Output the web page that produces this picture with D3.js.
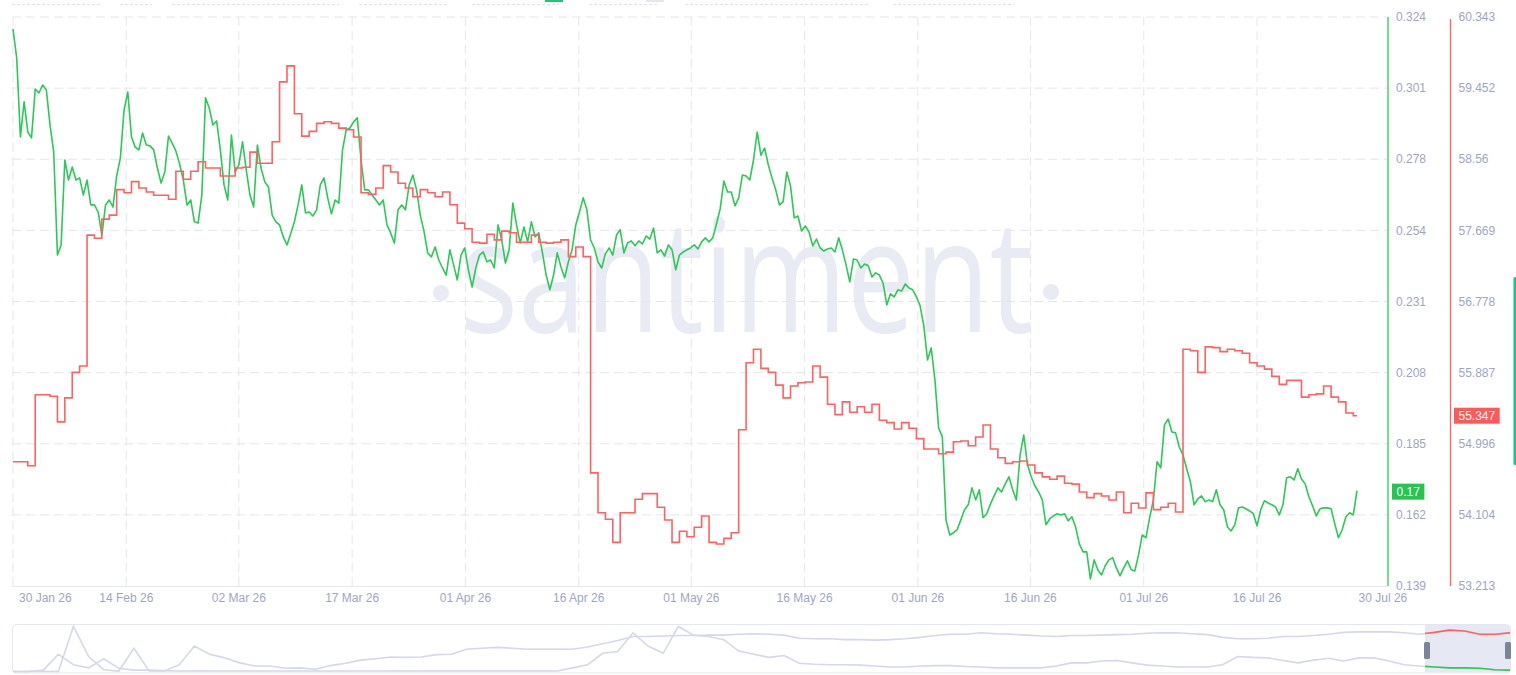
<!DOCTYPE html>
<html>
<head>
<meta charset="utf-8">
<script src="https://cdn.jsdelivr.net/npm/d3@7"></script>
<style>
  html, body { margin: 0; padding: 0; background: #fff; }
  svg { display: block; font-family: "Liberation Sans", Arial, sans-serif; }
</style>
</head>
<body>
<svg id="chart" width="1516" height="675"></svg>
<script>
// price (green), two readings per day from 30 Jan 26
var priceValues = [
  .3201,.3107,.2850,.2964,.2866,.2847,.3006,.2993,.3019,.3003,
  .2889,.2801,.2466,.2499,.2775,.2710,.2752,.2710,.2717,.2661,
  .2710,.2629,.2629,.2606,.2531,.2629,.2645,.2622,.2723,.2782,
  .2938,.2996,.2850,.2817,.2808,.2863,.2824,.2821,.2808,.2749,
  .2700,.2736,.2853,.2830,.2804,.2762,.2710,.2629,.2645,.2574,
  .2570,.2661,.2977,.2944,.2889,.2902,.2808,.2694,.2645,.2856,
  .2736,.2759,.2834,.2743,.2661,.2622,.2824,.2749,.2704,.2687,
  .2596,.2574,.2564,.2525,.2499,.2535,.2574,.2629,.2694,.2603,
  .2606,.2593,.2613,.2694,.2717,.2652,.2600,.2645,.2635,.2808,
  .2873,.2879,.2899,.2912,.2775,.2678,.2678,.2661,.2645,.2629,
  .2645,.2564,.2538,.2505,.2613,.2629,.2613,.2694,.2726,.2678,
  .2596,.2544,.2473,.2460,.2492,.2450,.2424,.2401,.2483,.2434,
  .2385,.2466,.2489,.2418,.2362,.2424,.2466,.2476,.2444,.2450,
  .2424,.2564,.2515,.2440,.2483,.2635,.2564,.2505,.2557,.2509,
  .2574,.2525,.2538,.2473,.2401,.2353,.2401,.2473,.2427,.2392,
  .2444,.2483,.2564,.2606,.2652,.2613,.2515,.2489,.2444,.2424,
  .2470,.2489,.2466,.2531,.2548,.2473,.2505,.2512,.2496,.2512,
  .2502,.2528,.2518,.2554,.2473,.2483,.2463,.2499,.2483,.2418,
  .2466,.2476,.2483,.2489,.2499,.2486,.2509,.2522,.2509,.2522,
  .2567,.2616,.2707,.2671,.2671,.2626,.2652,.2726,.2723,.2710,
  .2775,.2866,.2791,.2814,.2759,.2717,.2678,.2629,.2639,.2736,
  .2691,.2587,.2593,.2544,.2561,.2541,.2496,.2518,.2489,.2479,
  .2486,.2489,.2476,.2522,.2483,.2434,.2379,.2453,.2450,.2424,
  .2437,.2431,.2395,.2408,.2401,.2375,.2304,.2340,.2330,.2353,
  .2349,.2372,.2359,.2353,.2330,.2301,.2236,.2125,.2164,.2060,
  .1904,.1875,.1605,.1556,.1563,.1573,.1605,.1638,.1654,.1709,
  .1670,.1703,.1612,.1625,.1657,.1683,.1709,.1696,.1722,.1745,
  .1703,.1670,.1816,.1881,.1784,.1745,.1716,.1696,.1670,.1589,
  .1608,.1618,.1625,.1621,.1625,.1602,.1615,.1582,.1527,.1501,
  .1501,.1413,.1475,.1443,.1426,.1456,.1475,.1482,.1449,.1423,
  .1449,.1472,.1443,.1439,.1491,.1556,.1547,.1612,.1670,.1794,
  .1774,.1914,.1933,.1891,.1888,.1842,.1816,.1771,.1729,.1654,
  .1673,.1683,.1664,.1670,.1664,.1703,.1654,.1638,.1582,.1569,
  .1589,.1644,.1647,.1641,.1634,.1625,.1586,.1638,.1667,.1660,
  .1654,.1647,.1621,.1654,.1742,.1745,.1735,.1771,.1738,.1722,
  .1680,.1651,.1618,.1641,.1644,.1644,.1641,.1592,.1547,.1573,
  .1615,.1628,.1621,.1700
];

// second metric (red), one value per day
var metricValues = [
  54.77,54.77,54.72,55.61,55.61,55.59,55.27,55.57,55.89,55.97,
  57.61,57.57,57.81,57.86,58.18,58.14,58.28,58.20,58.15,58.11,
  58.11,58.06,58.41,58.31,58.41,58.53,58.45,58.45,58.35,58.35,
  58.45,58.46,58.65,58.51,58.51,58.78,59.53,59.73,59.13,58.85,
  58.91,59.01,59.03,59.01,58.95,58.93,58.84,58.14,58.12,58.20,
  58.48,58.40,58.26,58.20,58.09,58.18,58.14,58.09,58.15,57.99,
  57.76,57.69,57.52,57.51,57.62,57.55,57.66,57.64,57.52,57.52,
  57.61,57.52,57.51,57.52,57.55,57.34,57.46,57.34,54.63,54.13,
  54.05,53.76,54.13,54.13,54.30,54.37,54.37,54.20,54.04,53.76,
  53.90,53.83,53.95,54.09,53.76,53.74,53.81,53.88,55.17,56.01,
  56.18,55.94,55.89,55.73,55.57,55.72,55.76,55.77,55.97,55.83,
  55.49,55.36,55.52,55.39,55.46,55.39,55.49,55.29,55.26,55.18,
  55.26,55.19,55.06,54.93,54.93,54.87,54.89,55.02,55.03,54.97,
  55.08,55.23,54.93,54.82,54.75,54.77,54.78,54.73,54.63,54.58,
  54.55,54.59,54.50,54.49,54.39,54.32,54.37,54.34,54.29,54.39,
  54.13,54.25,54.19,54.38,54.17,54.20,54.25,54.14,56.18,56.16,
  55.89,56.21,56.20,56.15,56.18,56.16,56.13,56.01,55.97,55.93,
  55.84,55.74,55.79,55.79,55.58,55.61,55.62,55.72,55.58,55.52,
  55.38,55.347
];

var priceDomain = [0.139, 0.324];
var metricDomain = [53.213, 60.343];
var priceTickLabels = ['0.139','0.162','0.185','0.208','0.231','0.254','0.278','0.301','0.324'];
var metricTickLabels = ['53.213','54.104','54.996','55.887','56.778','57.669','58.56','59.452','60.343'];

var dateLabels = ['30 Jan 26','14 Feb 26','02 Mar 26','17 Mar 26','01 Apr 26','16 Apr 26','01 May 26',
  '16 May 26','01 Jun 26','16 Jun 26','01 Jul 26','16 Jul 26','30 Jul 26'];
var dateTickDays = [0, 15.3, 30.5, 45.8, 61.1, 76.4, 91.6, 106.9, 122.2, 137.4, 152.7, 168.0, 185.0];

// full history for the navigator, scaled 0..1
var navMetric = [
  0,0,0,0,0.99,0.33,0.04,0.01,0.51,0.01,
  0.01,0.15,0.56,0.38,0.30,0.19,0.12,0.12,0.07,0.08,
  0.05,0.13,0.18,0.25,0.28,0.32,0.31,0.32,0.37,0.38,
  0.49,0.51,0.53,0.51,0.49,0.49,0.49,0.49,0.54,0.61,
  0.68,0.77,0.77,0.78,0.79,0.79,0.80,0.80,0.82,0.83,
  0.82,0.80,0.73,0.72,0.72,0.70,0.70,0.69,0.70,0.72,
  0.75,0.79,0.82,0.82,0.85,0.83,0.82,0.80,0.78,0.77,
  0.79,0.79,0.80,0.81,0.82,0.84,0.85,0.85,0.83,0.81,
  0.75,0.72,0.72,0.73,0.77,0.77,0.79,0.82,0.86,0.87,
  0.87,0.87,0.85,0.82,0.86,0.91,0.89,0.82,0.82,0.85
];
var navPrice = [
  0,0,0.03,0.38,0.15,0.08,0.28,0.07,0.03,0.03,
  0.02,0.01,0.01,0.01,0.01,0.01,0.01,0.01,0.01,0.01,
  0.01,0.01,0.01,0.01,0.01,0.01,0.01,0.01,0.01,0.01,
  0.01,0.01,0.01,0.01,0.01,0.01,0.01,0.08,0.15,0.40,
  0.44,0.85,0.56,0.40,0.99,0.80,0.77,0.70,0.45,0.38,
  0.31,0.35,0.18,0.16,0.15,0.15,0.14,0.12,0.10,0.10,
  0.12,0.13,0.13,0.11,0.10,0.08,0.08,0.08,0.08,0.12,
  0.19,0.19,0.23,0.24,0.19,0.14,0.12,0.10,0.10,0.10,
  0.15,0.33,0.31,0.30,0.24,0.19,0.25,0.29,0.23,0.30,
  0.30,0.23,0.15,0.12,0.10,0.08,0.08,0.07,0.04,0.03
];

var GREEN = '#2bc957', RED = '#ff6262', LABEL = '#9ea6bf', GRID = '#e3e6ef';
var plot = { left: 12, right: 1388, top: 17, bottom: 586 };
var svg = d3.select('#chart');

// leftovers of the toolbar above the chart
var stubs = [[12,100],[120,152],[172,339],[359,447],[472,559],[589,658],[685,868],[893,1014]];
stubs.forEach(function(s) {
  svg.append('line').attr('x1', s[0]).attr('x2', s[1]).attr('y1', 4.5).attr('y2', 4.5)
    .attr('stroke', '#dfe2ec').attr('stroke-dasharray', '3,2');
});
svg.append('rect').attr('x', 545).attr('y', 0).attr('width', 18).attr('height', 2).attr('fill', '#1cc47e');
svg.append('rect').attr('x', 646).attr('y', 0).attr('width', 18).attr('height', 2).attr('fill', '#e4e7f0');

// watermark
svg.append('text').attr('x', 460).attr('y', 332)
  .attr('textLength', 573).attr('lengthAdjust', 'spacingAndGlyphs')
  .style('font-family', '"Open Sans", "Noto Sans", sans-serif').style('font-size', '158px')
  .attr('fill', '#e8eaf4').text('santiment');
svg.append('circle').attr('cx', 441).attr('cy', 293).attr('r', 8).attr('fill', '#e8eaf4');
svg.append('circle').attr('cx', 1051).attr('cy', 292).attr('r', 8).attr('fill', '#e8eaf4');

var lastDay = (priceValues.length - 1) / 2;
var x = d3.scaleLinear().domain([0, lastDay]).range([13, 1357]);
var yPrice = d3.scaleLinear().domain(priceDomain).range([plot.bottom, plot.top]);
var yMetric = d3.scaleLinear().domain(metricDomain).range([plot.bottom, plot.top]);

var nTicks = priceTickLabels.length;
var priceTicks = d3.range(nTicks).map(function(i) {
  return priceDomain[0] + i * (priceDomain[1] - priceDomain[0]) / (nTicks - 1);
});
var metricTicks = d3.range(nTicks).map(function(i) {
  return metricDomain[0] + i * (metricDomain[1] - metricDomain[0]) / (nTicks - 1);
});

// grid
var grid = svg.append('g');
priceTicks.slice(1).forEach(function(t) {
  grid.append('line').attr('x1', plot.left).attr('x2', plot.right)
    .attr('y1', yPrice(t)).attr('y2', yPrice(t))
    .attr('stroke', GRID).attr('stroke-dasharray', '9,5');
});
dateTickDays.slice(0, -1).forEach(function(d) {
  grid.append('line').attr('x1', x(d)).attr('x2', x(d))
    .attr('y1', plot.top).attr('y2', plot.bottom)
    .attr('stroke', GRID).attr('stroke-dasharray', '9,5');
});
grid.append('line').attr('x1', plot.left).attr('x2', plot.right)
  .attr('y1', plot.bottom + 0.5).attr('y2', plot.bottom + 0.5).attr('stroke', '#e6e8f0');

// series
var priceLine = d3.line()
  .x(function(v, i) { return x(i / 2); })
  .y(function(v) { return yPrice(v); });
svg.append('path').datum(priceValues).attr('d', priceLine)
  .attr('fill', 'none').attr('stroke', GREEN).attr('stroke-width', 1.6).attr('stroke-linejoin', 'round');

var metricPts = metricValues.map(function(v, i) { return [i, v]; });
metricPts.push([lastDay, metricValues[metricValues.length - 1]]);
var metricLine = d3.line().curve(d3.curveStepAfter)
  .x(function(p) { return x(p[0]); })
  .y(function(p) { return yMetric(p[1]); });
svg.append('path').datum(metricPts).attr('d', metricLine)
  .attr('fill', 'none').attr('stroke', RED).attr('stroke-width', 1.6);

// right axes
var axGreen = 1388, axRed = 1450.5;
svg.append('line').attr('x1', axGreen).attr('x2', axGreen).attr('y1', plot.top).attr('y2', plot.bottom)
  .attr('stroke', GREEN).attr('stroke-width', 1.3);
svg.append('line').attr('x1', axRed).attr('x2', axRed).attr('y1', plot.top + 2).attr('y2', plot.bottom)
  .attr('stroke', RED).attr('stroke-width', 1.3);

priceTicks.forEach(function(t, i) {
  svg.append('text').attr('x', axGreen + 8).attr('y', yPrice(t)).attr('dy', '0.35em')
    .attr('fill', LABEL).style('font-size', '12px').text(priceTickLabels[i]);
});
metricTicks.forEach(function(t, i) {
  svg.append('text').attr('x', axRed + 8).attr('y', yMetric(t)).attr('dy', '0.35em')
    .attr('fill', LABEL).style('font-size', '12px').text(metricTickLabels[i]);
});

function badge(xLeft, yMid, label, fill) {
  var g = svg.append('g');
  var t = g.append('text').attr('x', xLeft + 4.5).attr('y', yMid).attr('dy', '0.35em')
    .attr('fill', '#fff').style('font-size', '12px').text(label);
  var w = t.node().getComputedTextLength() + 9;
  g.insert('rect', 'text').attr('x', xLeft).attr('y', yMid - 8).attr('width', w).attr('height', 16)
    .attr('fill', fill);
}
var lastPrice = priceValues[priceValues.length - 1];
var lastMetric = metricValues[metricValues.length - 1];
badge(axGreen + 4, yPrice(lastPrice) + 1, String(lastPrice), '#27c452');
badge(axRed + 3.5, yMetric(lastMetric), String(lastMetric), '#ff5a5a');

// date labels
dateLabels.forEach(function(lbl, i) {
  var t = svg.append('text').attr('y', 602).attr('fill', LABEL).style('font-size', '12px').text(lbl);
  var cx = x(dateTickDays[i]);
  var w = t.node().getComputedTextLength();
  if (cx - w / 2 < plot.left + 6) {
    t.attr('x', plot.left + 7).attr('text-anchor', 'start');
  } else {
    t.attr('x', cx).attr('text-anchor', 'middle');
  }
});

// navigator
var navSel = [1425, 1510];
var nav = svg.append('g');
nav.append('rect').attr('x', 12.5).attr('y', 624.5).attr('width', 1498).attr('height', 48.5).attr('rx', 4)
  .attr('fill', '#fff').attr('stroke', '#e4e7ef');
nav.append('rect').attr('x', navSel[0]).attr('y', 625).attr('width', navSel[1] - navSel[0]).attr('height', 47.5)
  .attr('fill', '#e6e9f3');
var xNav = d3.scaleLinear().domain([0, navPrice.length - 1]).range([13, 1510]);
var yNav = d3.scaleLinear().domain([0, 1]).range([671.5, 626]);
var navLine = d3.line().x(function(v, i) { return xNav(i); }).y(function(v) { return yNav(v); });
[navMetric, navPrice].forEach(function(arr) {
  nav.append('path').datum(arr).attr('d', navLine).attr('fill', 'none')
    .attr('stroke', '#d4d8e8').attr('stroke-width', 1.6);
});
svg.append('clipPath').attr('id', 'selclip').append('rect')
  .attr('x', navSel[0]).attr('y', 620).attr('width', navSel[1] - navSel[0]).attr('height', 55);
nav.append('path').datum(navMetric).attr('d', navLine).attr('fill', 'none')
  .attr('stroke', RED).attr('stroke-width', 1.6).attr('clip-path', 'url(#selclip)');
nav.append('path').datum(navPrice).attr('d', navLine).attr('fill', 'none')
  .attr('stroke', GREEN).attr('stroke-width', 1.6).attr('clip-path', 'url(#selclip)');
navSel.forEach(function(px, i) {
  nav.append('rect').attr('x', i === 0 ? px - 1 : px - 5).attr('y', 642).attr('width', 6).attr('height', 17)
    .attr('rx', 1.5).attr('fill', '#7b8598');
});

// side panel edge
svg.append('rect').attr('x', 1513.5).attr('y', 277).attr('width', 3).attr('height', 188).attr('rx', 1.5)
  .attr('fill', '#19c28b');
</script>
</body>
</html>
